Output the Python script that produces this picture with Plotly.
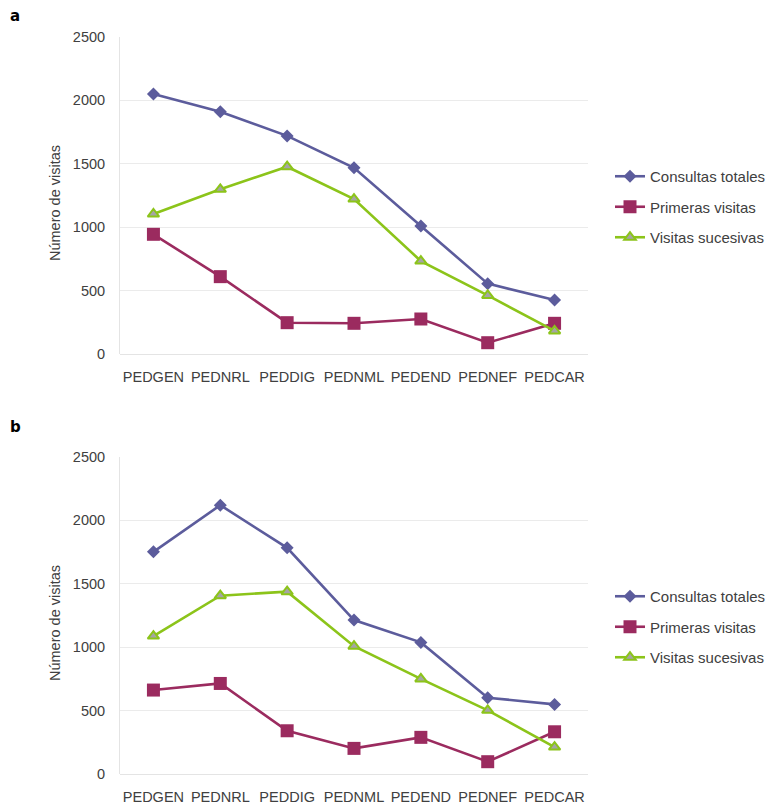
import plotly.graph_objects as go

# Servicios de pediatría
categorias = ["PEDGEN", "PEDNRL", "PEDDIG", "PEDNML", "PEDEND", "PEDNEF", "PEDCAR"]

# Panel a
a_consultas = [2050, 1911, 1720, 1469, 1009, 555, 426]
a_primeras = [944, 610, 247, 242, 276, 89, 242]
a_sucesivas = [1104, 1299, 1477, 1222, 733, 462, 182]

# Panel b
b_consultas = [1752, 2120, 1784, 1214, 1038, 602, 549]
b_primeras = [662, 714, 341, 202, 289, 97, 333]
b_sucesivas = [1088, 1406, 1438, 1008, 750, 502, 212]

nombres = ["Consultas totales", "Primeras visitas", "Visitas sucesivas"]
y_ticks = [0, 500, 1000, 1500, 2000, 2500]

C_TOT = "#5c5c9c"
C_PRI = "#9b2b5f"
C_SUC = "#8cc41a"
FONT = "Liberation Sans, Arial, sans-serif"
TXT = "#404040"

estilos = [
    dict(line=dict(color=C_TOT, width=2.6),
         marker=dict(symbol="diamond", size=10, color=C_TOT, line=dict(width=0))),
    dict(line=dict(color=C_PRI, width=2.6),
         marker=dict(symbol="square", size=13, color=C_PRI, line=dict(width=0))),
    dict(line=dict(color=C_SUC, width=2.6),
         marker=dict(symbol="triangle-up", size=10, color="#a5a5a5",
                     line=dict(color=C_SUC, width=2))),
]

fig = go.Figure()

paneles = [
    ("x", "y", "legend", [a_consultas, a_primeras, a_sucesivas]),
    ("x2", "y2", "legend2", [b_consultas, b_primeras, b_sucesivas]),
]
for xa, ya, leg, series in paneles:
    for i, (nombre, valores) in enumerate(zip(nombres, series)):
        fig.add_trace(go.Scatter(
            x=categorias, y=valores, name=nombre, mode="lines+markers",
            xaxis=xa, yaxis=ya, legend=leg, legendgroup=f"{leg}-{i}",
            cliponaxis=False, **estilos[i]))

x_dom = [120 / 782, 588 / 782]
ya_dom = [1 - 354 / 808, 1 - 37 / 808]
yb_dom = [1 - 774 / 808, 1 - 457 / 808]

def eje_x(anchor):
    return dict(domain=x_dom, anchor=anchor, type="category",
                categoryorder="array", categoryarray=categorias,
                range=[-0.5, len(categorias) - 0.5], automargin=False,
                showgrid=False, showline=False, zeroline=False,
                ticks="", ticklabelstandoff=12,
                tickfont=dict(family=FONT, size=14.5, color=TXT))

def eje_y(anchor, dom):
    return dict(domain=dom, anchor=anchor, range=[0, 2500], automargin=False,
                tickvals=y_ticks, showgrid=True, gridcolor="#ebebeb",
                gridwidth=1, zeroline=True, zerolinecolor="#e4e4e4",
                zerolinewidth=1, showline=True, linecolor="#e4e4e4",
                linewidth=1, ticks="", ticklabelstandoff=11,
                tickfont=dict(family=FONT, size=14.5, color=TXT))

leyenda = dict(font=dict(family=FONT, size=15, color=TXT),
               bgcolor="rgba(0,0,0,0)", borderwidth=0,
               tracegroupgap=8, traceorder="grouped",
               xanchor="left", yanchor="middle", itemwidth=30)

fig.update_layout(
    width=782, height=808,
    margin=dict(l=0, r=0, t=0, b=0, autoexpand=False),
    paper_bgcolor="white", plot_bgcolor="white",
    showlegend=True,
    xaxis=eje_x("y"), yaxis=eje_y("x", ya_dom),
    xaxis2=eje_x("y2"), yaxis2=eje_y("x2", yb_dom),
    legend=dict(leyenda, x=610 / 782, y=1 - 207 / 808),
    legend2=dict(leyenda, x=610 / 782, y=1 - 627 / 808),
    annotations=[
        dict(text="<b>a</b>", x=8 / 782, y=1 - 16 / 808, xref="paper", yref="paper",
             xanchor="left", yanchor="middle", showarrow=False,
             font=dict(family="DejaVu Sans", size=15, color="black")),
        dict(text="<b>b</b>", x=8 / 782, y=1 - 427 / 808, xref="paper", yref="paper",
             xanchor="left", yanchor="middle", showarrow=False,
             font=dict(family="DejaVu Sans", size=15, color="black")),
        dict(text="Número de visitas", x=55 / 782, y=1 - 203 / 808,
             xref="paper", yref="paper", textangle=-90, showarrow=False,
             xanchor="center", yanchor="middle",
             font=dict(family=FONT, size=14.5, color=TXT)),
        dict(text="Número de visitas", x=55 / 782, y=1 - 623 / 808,
             xref="paper", yref="paper", textangle=-90, showarrow=False,
             xanchor="center", yanchor="middle",
             font=dict(family=FONT, size=14.5, color=TXT)),
    ],
)

fig.write_html("out.html")
